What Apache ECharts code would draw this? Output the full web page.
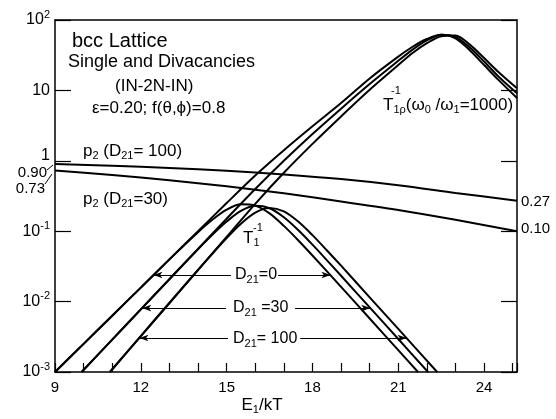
<!DOCTYPE html>
<html>
<head>
<meta charset="utf-8">
<script src="https://cdn.jsdelivr.net/npm/echarts@6/dist/echarts.min.js"></script>
<style>
  html, body { margin: 0; padding: 0; background: #fff; }
  #chart { width: 556px; height: 419px; }
</style>
</head>
<body>
<div id="chart"></div>
<script>
// Relaxation rates vs E1/kT, bcc lattice, single + divacancy diffusion
const X_TICKS = [9, 12, 15, 18, 21, 24];

// T1rho^-1 (w0/w1 = 1000) for D21 = 0, 30, 100
const E_T1RHO_D0 = [9, 10, 11, 12, 13, 14, 15, 16, 17, 18, 19, 20, 21, 21.5, 22, 22.5, 23, 23.5, 24, 24.5, 25.15];
const T1RHO_D0 = [0.001, 0.00251, 0.00631, 0.0158, 0.0398, 0.100, 0.251, 0.617, 1.41, 3.09, 6.61, 14.8, 30.2, 41.7, 53.7, 61.7, 55.0, 37.2, 22.9, 14.1, 7.8];
const E_T1RHO_D30 = [9.93, 11, 12, 13, 14, 15, 16, 17, 18, 19, 20, 21, 21.5, 22, 22.5, 23, 23.5, 24, 24.5, 25.15];
const T1RHO_D30 = [0.001, 0.00288, 0.00776, 0.0209, 0.0562, 0.151, 0.398, 1.00, 2.40, 5.50, 12.3, 26.3, 38.0, 51.3, 61.7, 57.5, 40.7, 25.7, 15.8, 9.1];
const E_T1RHO_D100 = [10.92, 12, 13, 14, 15, 16, 17, 18, 19, 20, 21, 21.5, 22, 22.5, 23, 23.5, 24, 24.5, 25.15];
const T1RHO_D100 = [0.001, 0.00324, 0.00955, 0.0282, 0.0832, 0.245, 0.676, 1.74, 4.27, 10.2, 22.9, 33.9, 46.8, 58.9, 60.3, 44.7, 28.8, 18.2, 10.7];

// T1^-1 for D21 = 0, 30, 100
const E_T1_D0 = [9, 10, 11, 12, 13, 14, 14.5, 15, 15.5, 16, 16.5, 17, 17.5, 18, 19, 20, 21, 21.69];
const T1_D0 = [0.001, 0.00251, 0.00631, 0.0158, 0.0398, 0.0966, 0.145, 0.202, 0.241, 0.231, 0.179, 0.119, 0.0745, 0.0452, 0.0162, 0.00575, 0.00204, 0.001];
const E_T1_D30 = [9.93, 11, 12, 13, 14, 14.5, 15, 15.5, 16, 16.5, 17, 17.5, 18, 18.5, 19, 20, 21, 22.04];
const T1_D30 = [0.001, 0.00288, 0.00776, 0.0208, 0.0555, 0.0889, 0.137, 0.194, 0.229, 0.212, 0.158, 0.104, 0.0644, 0.0389, 0.0233, 0.00828, 0.00294, 0.001];
const E_T1_D100 = [10.92, 12, 13, 14, 14.5, 15, 15.5, 16, 16.5, 17, 17.5, 18, 18.5, 19, 20, 21, 22.36];
const T1_D100 = [0.001, 0.00324, 0.00955, 0.0281, 0.0478, 0.080, 0.128, 0.184, 0.214, 0.191, 0.137, 0.0879, 0.0537, 0.0324, 0.0115, 0.00409, 0.001];

// divacancy fraction p2
const E_P2 = [9, 11, 13, 15, 17, 19, 21, 23, 25.15];
const P2_D100 = [0.90, 0.85, 0.79, 0.72, 0.64, 0.55, 0.45, 0.35, 0.27];
const P2_D30 = [0.73, 0.63, 0.53, 0.435, 0.345, 0.265, 0.20, 0.145, 0.10];

// arrow annotations: [from E, to E, level]
const ARROWS = [
  [15.15, 12.44, 0.0239], [16.80, 18.63, 0.0239],
  [14.98, 12.05, 0.0081], [17.39, 20.02, 0.0081],
  [15.05, 11.95, 0.00304], [17.57, 21.29, 0.00304]
];

const FONT = "'Liberation Sans', Arial, sans-serif";
const zip = (xs, ys) => xs.map((x, i) => [x, ys[i]]);

function curve(name, xs, ys) {
  return {
    name, type: 'line', data: zip(xs, ys),
    showSymbol: false, symbol: 'none', smooth: 0.3,
    lineStyle: { color: '#000', width: 2 },
    emphasis: { disabled: true }, silent: true, z: 3
  };
}

const chart = echarts.init(document.getElementById('chart'), null, { renderer: 'canvas' });

const series = [
  curve('T1rho D21=0', E_T1RHO_D0, T1RHO_D0),
  curve('T1rho D21=30', E_T1RHO_D30, T1RHO_D30),
  curve('T1rho D21=100', E_T1RHO_D100, T1RHO_D100),
  curve('T1 D21=0', E_T1_D0, T1_D0),
  curve('T1 D21=30', E_T1_D30, T1_D30),
  curve('T1 D21=100', E_T1_D100, T1_D100),
  curve('p2 D21=100', E_P2, P2_D100),
  curve('p2 D21=30', E_P2, P2_D30),
  {
    name: 'arrows', type: 'line', data: [], silent: true,
    markLine: {
      silent: true, animation: false,
      symbol: ['none', 'arrow'], symbolSize: [5, 9],
      lineStyle: { color: '#000', width: 1, type: 'solid' },
      label: { show: false }, emphasis: { disabled: true },
      data: ARROWS.map(a => [{ coord: [a[0], a[2]] }, { coord: [a[1], a[2]] }])
    }
  }
];

const axisLine = { show: true, lineStyle: { color: '#000', width: 1.5 } };

const option = {
  animation: false,
  backgroundColor: '#fff',
  grid: { left: 55, right: 39, top: 20, bottom: 47, containLabel: false, outerBoundsMode: 'none' },
  xAxis: [
    {
      type: 'value', min: 9, max: 25.15, interval: 3, position: 'bottom',
      axisLine,
      axisTick: { show: true, inside: true, length: 9, lineStyle: { color: '#000', width: 1.2 } },
      minorTick: { show: true, splitNumber: 3, length: 9, lineStyle: { color: '#000', width: 1.2 } },
      splitLine: { show: false },
      axisLabel: {
        margin: 8, color: '#000', fontFamily: FONT, fontSize: 15,
        formatter: v => (X_TICKS.indexOf(v) >= 0 ? String(v) : '')
      }
    },
    {
      type: 'value', min: 9, max: 25.15, position: 'top',
      axisLine, axisTick: { show: false }, axisLabel: { show: false }, splitLine: { show: false }
    }
  ],
  yAxis: [
    {
      type: 'log', logBase: 10, min: 0.001, max: 100, position: 'left',
      axisLine,
      axisTick: { show: true, inside: true, length: 16, lineStyle: { color: '#000', width: 1.2 } },
      splitLine: { show: false },
      axisLabel: {
        margin: 5, color: '#000', fontFamily: FONT, fontSize: 16,
        formatter: v => {
          const p = Math.round(Math.log10(v));
          if (p === 0) return '{one|1}';
          if (p === 1) return '10';
          return '10{sup|' + p + '}';
        },
        rich: {
          sup: { fontFamily: FONT, fontSize: 11, color: '#000', padding: [0, 0, 11, 0] },
          one: { fontFamily: FONT, fontSize: 16, color: '#000', padding: [0, 0, 10, 0] }
        }
      }
    },
    {
      type: 'log', logBase: 10, min: 0.001, max: 100, position: 'right',
      axisLine,
      axisTick: { show: true, inside: true, length: 16, lineStyle: { color: '#000', width: 1.2 } },
      axisLabel: { show: false }, splitLine: { show: false }
    }
  ],
  series,
  graphic: []
};

const sub = { fontFamily: FONT, fontSize: 11, fill: '#000', padding: [10, 0, 0, 0] };
const w = { fontFamily: FONT, fontSize: 17, fill: '#000' };

function txt(x, y, text, size, align, rich) {
  return {
    type: 'text', x, y, silent: true,
    style: {
      text, fill: '#000', fontFamily: FONT, fontSize: size,
      align: align || 'left', verticalAlign: 'middle', rich: rich || {}
    }
  };
}

option.graphic = [
  txt(72, 41, 'bcc Lattice', 20),
  txt(68, 62, 'Single and Divacancies', 18),
  txt(115, 86, '(IN-2N-IN)', 17),
  txt(92, 108, 'ε=0.20; f(θ,ϕ)=0.8', 17),
  txt(83, 151, 'p{s|2} (D{s|21}= 100)', 17, 'left', { s: sub }),
  txt(83, 199, 'p{s|2} (D{s|21}=30)', 17, 'left', { s: sub }),
  txt(383, 105, 'T{s|1ρ}(ω{s|0} /ω{s|1}=1000)', 17, 'left', { s: sub, w }),
  txt(391, 91, '-1', 11),
  txt(243, 238, 'T{s|1}', 17, 'left', { s: sub }),
  txt(253, 228, '-1', 11),
  txt(235, 275, 'D{s|21}=0', 16, 'left', { s: sub }),
  txt(233, 308, 'D{s|21} =30', 16, 'left', { s: sub }),
  txt(233, 339, 'D{s|21}= 100', 16, 'left', { s: sub }),
  txt(47, 173, '0.90', 15, 'right'),
  txt(45, 189, '0.73', 15, 'right'),
  txt(521, 202, '0.27', 15),
  txt(521, 229, '0.10', 15),
  txt(262, 405, 'E{s|1}/kT', 17, 'center', { s: sub }),
  { type: 'line', silent: true, shape: { x1: 47, y1: 170, x2: 53, y2: 165 }, style: { stroke: '#000', lineWidth: 1 } },
  { type: 'line', silent: true, shape: { x1: 45, y1: 184, x2: 52, y2: 174 }, style: { stroke: '#000', lineWidth: 1 } }
];

chart.setOption(option);
</script>
</body>
</html>
